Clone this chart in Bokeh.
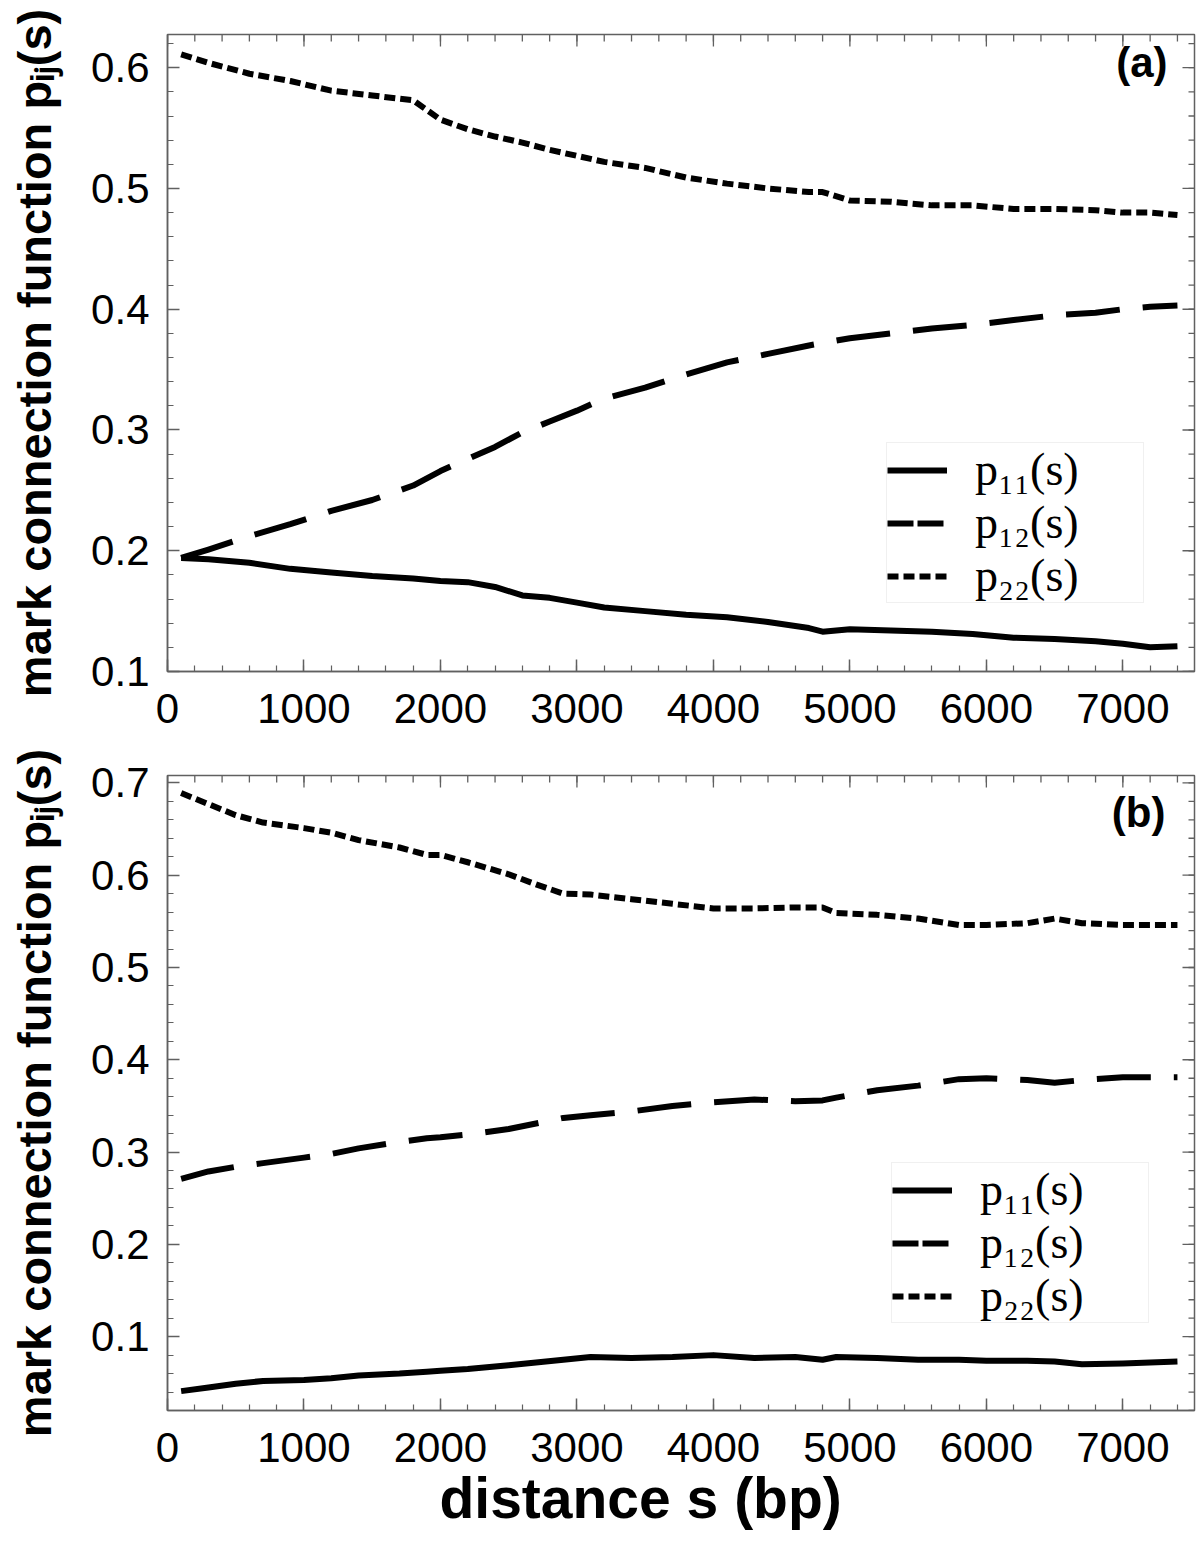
from bokeh.plotting import figure
from bokeh.models import (Label, Legend, LegendItem, FixedTicker, Range1d, Title)
from bokeh.layouts import column
from bokeh.embed import file_html
from bokeh.resources import INLINE

# ---------------- data ----------------
x_a = [100, 300, 600, 900, 1200, 1500, 1800, 2000, 2200, 2400, 2600, 2800, 3000, 3200, 3500,
       3800, 4100, 4400, 4700, 4800, 5000, 5300, 5600, 5900, 6200, 6500, 6800, 7000, 7200, 7400]
p11_a = [0.194, 0.193, 0.190, 0.185, 0.182, 0.179, 0.177, 0.175, 0.174, 0.170, 0.163, 0.161, 0.157,
         0.153, 0.150, 0.147, 0.145, 0.141, 0.136, 0.133, 0.135, 0.134, 0.133, 0.131, 0.128, 0.127,
         0.125, 0.123, 0.120, 0.121]
p12_a = [0.194, 0.201, 0.212, 0.222, 0.233, 0.242, 0.254, 0.266, 0.276, 0.286, 0.298, 0.307, 0.316,
         0.326, 0.335, 0.346, 0.356, 0.363, 0.370, 0.372, 0.376, 0.380, 0.384, 0.387, 0.391, 0.395,
         0.397, 0.400, 0.402, 0.403]
p22_a = [0.611, 0.604, 0.595, 0.589, 0.581, 0.577, 0.573, 0.557, 0.549, 0.543, 0.538, 0.532, 0.527,
         0.522, 0.517, 0.509, 0.504, 0.500, 0.497, 0.497, 0.490, 0.489, 0.486, 0.486, 0.483, 0.483,
         0.482, 0.480, 0.480, 0.478]

x_b = [100, 300, 500, 700, 1000, 1200, 1400, 1700, 1900, 2000, 2200, 2500, 2700, 2900, 3100, 3400,
       3700, 4000, 4300, 4600, 4800, 4900, 5200, 5500, 5800, 6000, 6300, 6500, 6700, 7000, 7400]
p11_b = [0.041, 0.045, 0.049, 0.052, 0.053, 0.055, 0.058, 0.060, 0.062, 0.063, 0.065, 0.069, 0.072,
         0.075, 0.078, 0.077, 0.078, 0.080, 0.077, 0.078, 0.075, 0.078, 0.077, 0.075, 0.075, 0.074,
         0.074, 0.073, 0.070, 0.071, 0.073]
p12_b = [0.271, 0.279, 0.284, 0.288, 0.294, 0.298, 0.304, 0.311, 0.315, 0.316, 0.319, 0.325, 0.331,
         0.337, 0.340, 0.344, 0.350, 0.354, 0.357, 0.355, 0.356, 0.359, 0.367, 0.372, 0.379, 0.380,
         0.378, 0.375, 0.378, 0.381, 0.381]
p22_b = [0.689, 0.677, 0.665, 0.657, 0.651, 0.646, 0.638, 0.630, 0.622, 0.622, 0.614, 0.601, 0.590,
         0.580, 0.579, 0.574, 0.569, 0.564, 0.564, 0.565, 0.565, 0.559, 0.557, 0.553, 0.546, 0.546,
         0.548, 0.553, 0.548, 0.546, 0.546]

x_major = [0, 1000, 2000, 3000, 4000, 5000, 6000, 7000]
x_minor = [i * 200 for i in range(38)]
y_major_a = [0.1, 0.2, 0.3, 0.4, 0.5, 0.6]
y_minor_a = [round(0.1 + 0.02 * i, 2) for i in range(27)]
y_major_b = [0.1, 0.2, 0.3, 0.4, 0.5, 0.6, 0.7]
y_minor_b = [round(0.02 + 0.02 * i, 2) for i in range(35)]
legend_labels = ["p\u2081\u2081(s)", "p\u2081\u2082(s)", "p\u2082\u2082(s)"]
y_label = "mark connection function p\u1d62\u2c7c(s)"
x_label = "distance s (bp)"
X_MAX = 7525

SANS = "Liberation Sans"
SERIF = "Liberation Serif"
GRAY = "#606060"


def style_axis(ax, ticks, minor):
    ax.ticker = FixedTicker(ticks=ticks, minor_ticks=minor)
    ax.axis_line_color = GRAY
    ax.axis_line_width = 1.5
    ax.major_tick_line_color = GRAY
    ax.minor_tick_line_color = GRAY
    ax.major_tick_line_width = 1.5
    ax.minor_tick_line_width = 1.2
    ax.major_tick_in = 12
    ax.major_tick_out = 0
    ax.minor_tick_in = 6
    ax.minor_tick_out = 0
    ax.major_label_text_font = SANS
    ax.major_label_text_font_size = "42px"
    ax.major_label_text_color = "black"


def panel(xs, s11, s12, s22, ymin, ymax, ymaj, ymin_t, left, fw, fh, top, bottom, right,
          tag, tag_xy, leg_loc, xlabel):
    p = figure(x_range=Range1d(0, X_MAX), y_range=Range1d(ymin, ymax),
               frame_width=fw, frame_height=fh,
               min_border_left=left, min_border_right=right,
               min_border_top=top, min_border_bottom=bottom,
               output_backend="svg", toolbar_location=None)
    p.xgrid.visible = False
    p.ygrid.visible = False
    p.outline_line_color = GRAY
    p.outline_line_width = 1.5
    p.background_fill_color = "white"
    p.border_fill_color = "white"

    style_axis(p.xaxis[0], x_major, x_minor)
    p.xaxis[0].major_label_standoff = 22
    p.xaxis[0].axis_label = None
    style_axis(p.yaxis[0], ymaj, ymin_t)
    p.yaxis[0].major_label_standoff = 18
    p.yaxis[0].axis_label = y_label
    p.yaxis[0].axis_label_text_font = SANS
    p.yaxis[0].axis_label_text_font_style = "bold"
    p.yaxis[0].axis_label_text_font_size = "47px"
    p.yaxis[0].axis_label_text_color = "black"
    p.yaxis[0].axis_label_standoff = 27

    # mirrored tick marks on the top and right frame edges (from the tick lists)
    dy = (ymax - ymin) / fh
    dx = X_MAX / fw
    tick_kw = dict(line_color=GRAY, line_width=1.3)
    p.segment(x0=x_minor, x1=x_minor, y0=[ymax] * len(x_minor),
              y1=[ymax - 7 * dy] * len(x_minor), **tick_kw)
    p.segment(x0=x_major, x1=x_major, y0=[ymax] * len(x_major),
              y1=[ymax - 12 * dy] * len(x_major), **tick_kw)
    p.segment(x0=[X_MAX] * len(ymin_t), x1=[X_MAX - 6 * dx] * len(ymin_t),
              y0=ymin_t, y1=ymin_t, **tick_kw)
    p.segment(x0=[X_MAX] * len(ymaj), x1=[X_MAX - 12 * dx] * len(ymaj),
              y0=ymaj, y1=ymaj, **tick_kw)

    common = dict(line_color="black", line_width=6, line_cap="butt", line_join="round")
    r11 = p.line(xs, s11, **common)
    r12 = p.line(xs, s12, line_dash="54 23", **common)
    r22 = p.line(xs, s22, line_dash="11 5", **common)
    # legend key for p12 uses the shorter dash pattern shown in the reference key
    r12_key = p.line(xs, s12, line_dash="26 4", visible=False, **common)

    leg = Legend(items=[LegendItem(label=legend_labels[0], renderers=[r11]),
                        LegendItem(label=legend_labels[1], renderers=[r12_key]),
                        LegendItem(label=legend_labels[2], renderers=[r22])],
                 location=leg_loc, orientation="vertical",
                 padding=0, margin=0, spacing=0,
                 glyph_width=60, glyph_height=50, label_height=50, label_width=168,
                 label_standoff=28,
                 label_text_font=SERIF, label_text_font_size="46px",
                 label_text_color="black",
                 border_line_color="#e2e2e2", border_line_width=1,
                 background_fill_color="white", background_fill_alpha=1,
                 inactive_fill_alpha=0)
    p.add_layout(leg, "center")

    p.add_layout(Label(x=tag_xy[0], y=tag_xy[1], x_units="screen", y_units="screen",
                       text=tag, text_font=SANS, text_font_style="bold",
                       text_font_size="42px", text_align="right", text_baseline="top",
                       text_color="black"))

    if xlabel:
        p.add_layout(Title(text=x_label, align="left", offset=272, standoff=2,
                           text_font=SANS, text_font_style="bold", text_font_size="57px",
                           text_color="black", vertical_align="top"), "below")
    return p


fa = panel(x_a, p11_a, p12_a, p22_a, 0.1, 0.6275, y_major_a, y_minor_a,
           left=161, fw=1027, fh=637, top=34, bottom=79, right=12,
           tag="(a)", tag_xy=(1000, 633), leg_loc=(719, 68), xlabel=False)
fb = panel(x_b, p11_b, p12_b, p22_b, 0.02, 0.708, y_major_b, y_minor_b,
           left=167, fw=1027, fh=635, top=25, bottom=140, right=6,
           tag="(b)", tag_xy=(998, 622), leg_loc=(724, 87), xlabel=True)

layout = column(fa, fb, spacing=0)
open("out.html", "w").write(file_html(layout, INLINE))
